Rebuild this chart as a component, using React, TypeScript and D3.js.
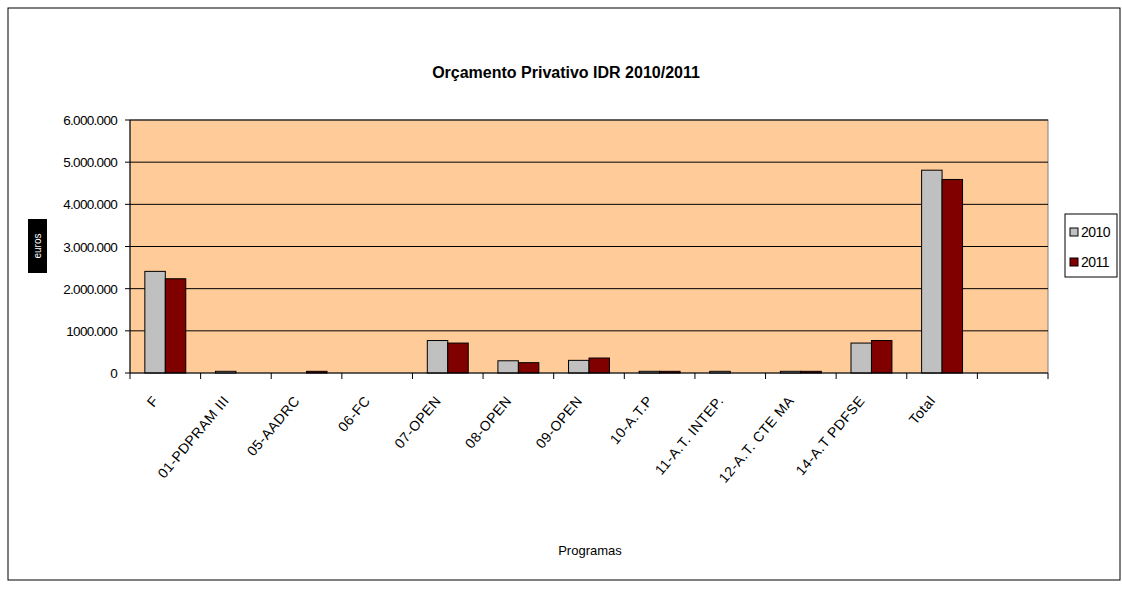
import React from "react";
import * as d3 from "d3";

const categories = [
  "F",
  "01-PDPRAM III",
  "05-AADRC",
  "06-FC",
  "07-OPEN",
  "08-OPEN",
  "09-OPEN",
  "10-A.T.P",
  "11-A.T. INTEP.",
  "12-A.T. CTE MA",
  "14-A.T PDFSE",
  "Total",
  "",
];
const series2010 = [2410000, 40000, 0, 0, 770000, 290000, 300000, 40000, 40000, 40000, 710000, 4810000, 0];
const series2011 = [2235000, 0, 40000, 0, 710000, 245000, 355000, 40000, 0, 40000, 770000, 4590000, 0];
const yTicks = [0, 1000000, 2000000, 3000000, 4000000, 5000000, 6000000];
const yTickLabels = ["0", "1000.000", "2.000.000", "3.000.000", "4.000.000", "5.000.000", "6.000.000"];
const seriesNames = ["2010", "2011"];
const colors = ["#C0C0C0", "#800000"];

export default function App() {
  const W = 1122, H = 589;
  const left = 130, right = 1048, top = 120, bottom = 373;
  const x = d3.scaleBand<number>().domain(d3.range(categories.length)).range([left, right]).paddingInner(0).paddingOuter(0);
  const y = d3.scaleLinear().domain([0, 6000000]).range([bottom, top]);
  const bw = x.bandwidth();
  const barW = bw / 3.45;
  const data = [series2010, series2011];
  const font = "Arial, 'Liberation Sans', sans-serif";
  return (
    <svg width={W} height={H} style={{ position: "absolute", left: 0, top: 0 }} fontFamily={font}>
      <rect x={8} y={8} width={1112} height={572} fill="#fff" stroke="#000" strokeWidth={1} />
      <text x={566} y={78} textAnchor="middle" fontSize={16} fontWeight="bold">Orçamento Privativo IDR 2010/2011</text>
      <rect x={left} y={top} width={right - left} height={bottom - top} fill="#FFCC99" stroke="#808080" strokeWidth={1} />
      {yTicks.slice(1).map((t) => (
        <line key={t} x1={left} x2={right} y1={y(t)} y2={y(t)} stroke="#000" strokeWidth={1} />
      ))}
      {data.map((s, si) =>
        s.map((v, i) =>
          v > 0 ? (
            <rect key={si + "-" + i}
              x={(x(i) as number) + (bw - 2 * barW) / 2 + si * barW}
              y={y(v)} width={barW} height={bottom - y(v)}
              fill={colors[si]} stroke="#000" strokeWidth={1} />
          ) : null
        )
      )}
      <line x1={left} x2={left} y1={top} y2={bottom} stroke="#000" />
      <line x1={left} x2={right} y1={bottom} y2={bottom} stroke="#000" />
      {yTicks.map((t, i) => (
        <g key={t}>
          <line x1={left - 5} x2={left} y1={y(t)} y2={y(t)} stroke="#000" />
          <text x={left - 13} y={y(t) + 5} textAnchor="end" fontSize={13.5} letterSpacing={-0.7}>{yTickLabels[i]}</text>
        </g>
      ))}
      {d3.range(categories.length + 1).map((i) => (
        <line key={i} x1={left + i * bw} x2={left + i * bw} y1={bottom} y2={bottom + 6} stroke="#000" />
      ))}
      {categories.map((c, i) => {
        const cx = (x(i) as number) + bw / 2 - 6;
        const cy = bottom + 28;
        return (
          <text key={i} x={cx} y={cy} transform={`rotate(-50 ${cx} ${cy})`} textAnchor="end" fontSize={14} letterSpacing={0.5}>{c}</text>
        );
      })}
      <text x={590} y={555} textAnchor="middle" fontSize={13}>Programas</text>
      <rect x={28} y={219} width={19} height={54} fill="#000" />
      <text x={0} y={0} transform="translate(41 246) rotate(-90)" textAnchor="middle" fontSize={10} fill="#fff">euros</text>
      <rect x={1065} y={214} width={52} height={63} fill="#fff" stroke="#000" />
      {seriesNames.map((n, i) => (
        <g key={n}>
          <rect x={1070} y={228 + i * 30} width={8} height={8} fill={colors[i]} stroke="#000" />
          <text x={1081} y={237 + i * 30} fontSize={14} letterSpacing={-0.5}>{n}</text>
        </g>
      ))}
    </svg>
  );
}
